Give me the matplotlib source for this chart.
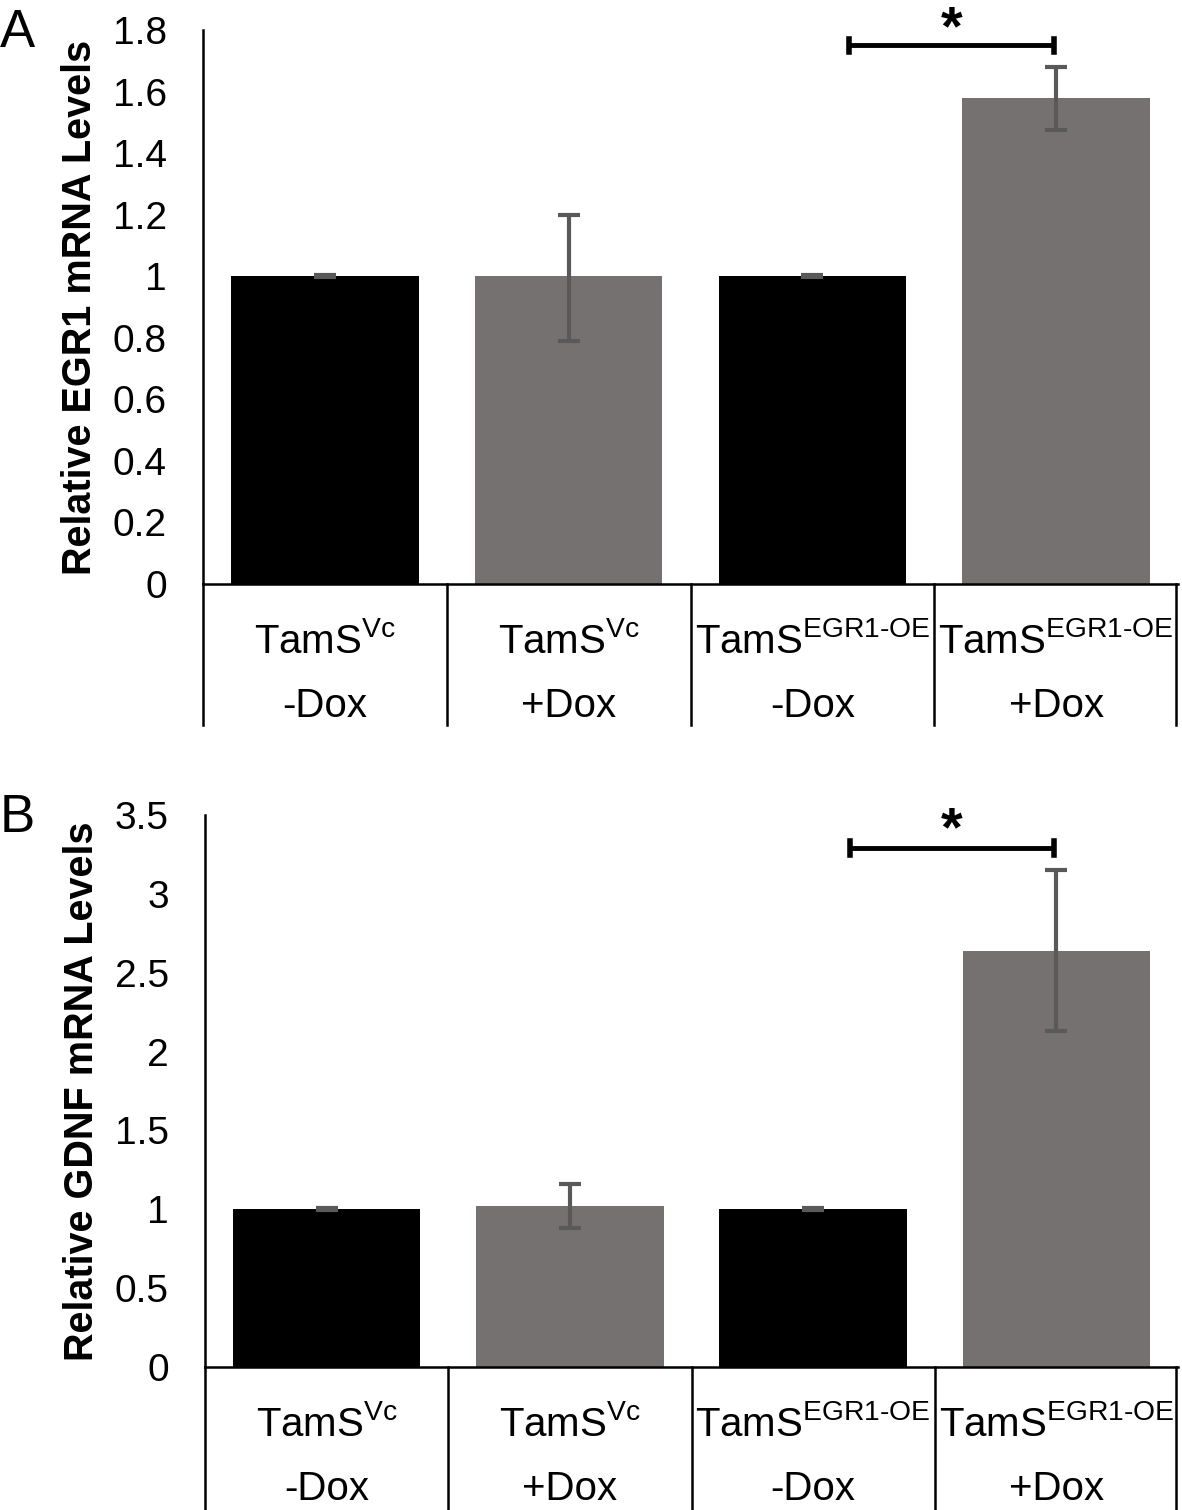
import matplotlib
matplotlib.use("Agg")
import matplotlib.pyplot as plt
import numpy as np

plt.rcParams['font.family'] = ['Liberation Sans', 'DejaVu Sans']
plt.rcParams['mathtext.fontset'] = 'custom'
plt.rcParams['mathtext.rm'] = 'Liberation Sans'
plt.rcParams['mathtext.it'] = 'Liberation Sans'

strains = ["TamS$^{\\text{Vc}}$", "TamS$^{\\text{Vc}}$",
           "TamS$^{\\text{EGR1-OE}}$", "TamS$^{\\text{EGR1-OE}}$"]
dox = ["-Dox", "+Dox", "-Dox", "+Dox"]

egr1_vals = [1.0, 1.0, 1.0, 1.58]
egr1_err_lo = [0.004, 0.21, 0.004, 0.105]
egr1_err_hi = [0.004, 0.20, 0.004, 0.10]
egr1_ticks = [0, 0.2, 0.4, 0.6, 0.8, 1, 1.2, 1.4, 1.6, 1.8]
egr1_ticklabels = ["0", "0.2", "0.4", "0.6", "0.8", "1", "1.2", "1.4", "1.6", "1.8"]

gdnf_vals = [1.0, 1.02, 1.0, 2.64]
gdnf_err_lo = [0.006, 0.14, 0.006, 0.51]
gdnf_err_hi = [0.006, 0.14, 0.006, 0.51]
gdnf_ticks = [0, 0.5, 1, 1.5, 2, 2.5, 3, 3.5]
gdnf_ticklabels = ["0", "0.5", "1", "1.5", "2", "2.5", "3", "3.5"]

colors = ["#000000", "#767171", "#000000", "#767171"]
err_color = "#595959"

W, H = 1182, 1510
fig = plt.figure(figsize=(W / 100, H / 100), dpi=100)


def panel(rect, vals, lo, hi, ticks, ticklabels, ymax, ylabel, letter,
          bracket_y, star_y, sep_bottom_px):
    ax = fig.add_axes(rect)
    x = np.arange(len(vals))
    ax.bar(x, vals, width=0.77, color=colors, zorder=2)
    ax.errorbar(x, vals, yerr=[lo, hi], fmt='none', ecolor=err_color,
                elinewidth=3, capsize=8, capthick=3, zorder=3)
    ax.set_xlim(-0.5, len(vals) - 0.5)
    ax.set_ylim(0, ymax)
    ax.set_yticks(ticks)
    ax.set_yticklabels(ticklabels)
    ax.tick_params(axis='y', length=0, pad=26, labelsize=28)
    ax.set_xticks([])
    for s in ['top', 'right']:
        ax.spines[s].set_visible(False)
    ax.spines['left'].set_linewidth(1.8)
    ax.spines['bottom'].set_linewidth(1.8)
    ax.set_ylabel(ylabel, fontsize=28.5, fontweight='bold', labelpad=10)
    # significance bracket between bar 3 and bar 4
    ax.plot([2.15, 2.99], [bracket_y, bracket_y], color='black', lw=3.5,
            clip_on=False, solid_capstyle='butt')
    for xb in [2.15, 2.99]:
        ax.plot([xb, xb], [bracket_y - ymax * 0.012, bracket_y + ymax * 0.012],
                color='black', lw=4, clip_on=False)
    ax.text(2.57, star_y, "*", ha='center', va='center', fontsize=40,
            fontweight='bold', clip_on=False)
    # category table below axis
    trans = ax.get_xaxis_transform()
    ax_h_px = rect[3] * H
    sep_bottom = -sep_bottom_px / ax_h_px
    for xb in [-0.5, 0.5, 1.5, 2.5, 3.49]:
        ax.plot([xb, xb], [0, sep_bottom], color='black', lw=1.8,
                transform=trans, clip_on=False)
    for i in range(len(vals)):
        ax.text(i, -57 / ax_h_px, strains[i], transform=trans, ha='center',
                va='center', fontsize=29)
        ax.text(i, -122 / ax_h_px, dox[i], transform=trans, ha='center',
                va='center', fontsize=29)
    fig.text(0.0, rect[1] + rect[3] - 0.002, letter, fontsize=38,
             ha='left', va='center')
    return ax


axA = panel([203 / W, 1 - 584 / H, 975 / W, 554 / H], egr1_vals, egr1_err_lo,
            egr1_err_hi, egr1_ticks, egr1_ticklabels, 1.8,
            "Relative EGR1 mRNA Levels", "A", 1.75, 1.80, 141)
axB = panel([205 / W, 1 - 1367 / H, 973 / W, 552 / H], gdnf_vals, gdnf_err_lo,
            gdnf_err_hi, gdnf_ticks, gdnf_ticklabels, 3.5,
            "Relative GDNF mRNA Levels", "B", 3.29, 3.40, 143)

fig.savefig("out.png", dpi=100)
